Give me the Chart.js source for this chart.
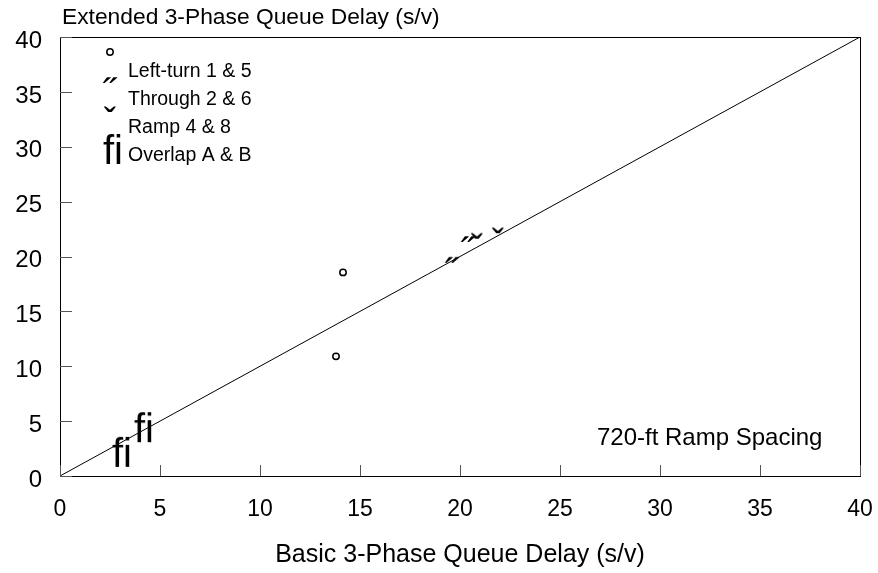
<!DOCTYPE html>
<html>
<head>
<meta charset="utf-8">
<script src="https://cdn.jsdelivr.net/npm/chart.js@4/dist/chart.umd.min.js"></script>
<style>
  html, body { margin: 0; padding: 0; background: #fff; }
</style>
</head>
<body>
<canvas id="c" width="878" height="573"></canvas>
<script>
// values (x = basic delay, y = extended delay)
const seriesNames = ['Left-turn 1 & 5', 'Through 2 & 6', 'Ramp 4 & 8', 'Overlap A & B'];
const leftTurnX = [14.15, 13.8];
const leftTurnY = [18.55, 10.9];
const throughX = [19.6, 20.4];
const throughY = [19.7, 21.6];
const rampX = [20.85, 21.9];
const rampY = [21.9, 22.4];
const overlapX = [3.05, 4.15];
const overlapY = [2.2, 4.45];
const equalityLine = [0, 40];
const axisTicks = [0, 5, 10, 15, 20, 25, 30, 35, 40];

const FONT = '"Liberation Sans", Arial, sans-serif';

// small canvas holding one text glyph, ink centred, used as a point style
function glyph(txt, px, w, h) {
  const c = document.createElement('canvas');
  c.width = w; c.height = h;
  const g = c.getContext('2d');
  g.font = px + 'px ' + FONT;
  g.fillStyle = '#000';
  const m = g.measureText(txt);
  const iw = m.actualBoundingBoxLeft + m.actualBoundingBoxRight;
  const ih = m.actualBoundingBoxAscent + m.actualBoundingBoxDescent;
  g.fillText(txt, (w - iw) / 2 + m.actualBoundingBoxLeft, (h - ih) / 2 + m.actualBoundingBoxAscent);
  return c;
}

const markThrough = glyph('\u02DD', 38, 20, 16);
const markRamp = glyph('\u02C7', 36, 20, 16);
const markOverlap = glyph('fi', 40, 30, 36);

function pts(xs, ys) {
  return xs.map((v, i) => ({ x: v, y: ys[i] }));
}

const datasets = [
  { label: seriesNames[0], data: pts(leftTurnX, leftTurnY), pointStyle: 'circle', pointRadius: 3.2,
    pointBorderWidth: 1.5, pointBorderColor: '#000', pointBackgroundColor: '#fff', showLine: false },
  { label: seriesNames[1], data: pts(throughX, throughY), pointStyle: markThrough, showLine: false },
  { label: seriesNames[2], data: pts(rampX, rampY), pointStyle: markRamp, showLine: false },
  { label: seriesNames[3], data: pts(overlapX, overlapY), pointStyle: markOverlap, showLine: false },
  { label: 'equal', data: pts(equalityLine, equalityLine), showLine: true, borderColor: '#000',
    borderWidth: 1, pointRadius: 0, fill: false }
];

// frame, inward ticks, titles, note and legend
const decor = {
  id: 'decor',
  afterDraw(chart) {
    const { ctx, chartArea: a, scales: { x, y } } = chart;
    ctx.save();
    ctx.strokeStyle = '#000';
    ctx.lineWidth = 1;
    ctx.strokeRect(a.left + 0.5, a.top + 0.5, a.right - a.left, a.bottom - a.top);

    ctx.strokeStyle = '#555';
    ctx.beginPath();
    axisTicks.forEach(v => {
      const px = Math.round(x.getPixelForValue(v)) + 0.5;
      ctx.moveTo(px, a.bottom); ctx.lineTo(px, a.bottom - 11);
      const py = Math.round(y.getPixelForValue(v)) + 0.5;
      ctx.moveTo(a.left, py); ctx.lineTo(a.left + 12, py);
    });
    ctx.stroke();

    ctx.fillStyle = '#000';
    ctx.textBaseline = 'middle';
    ctx.textAlign = 'left';
    ctx.font = '22.8px ' + FONT;
    ctx.fillText('Extended 3-Phase Queue Delay (s/v)', a.left + 2, 18);

    ctx.font = '24px ' + FONT;
    ctx.fillText('720-ft Ramp Spacing', 597, 438);

    // legend: marker sits above-left of its label like in the original
    ctx.font = '19.5px ' + FONT;
    const offs = [-20, -20, -19, -7];
    seriesNames.forEach((name, i) => {
      const ly = 72 + i * 28;
      ctx.fillStyle = '#000';
      ctx.fillText(name, 128, ly);
      const ds = chart.data.datasets[i];
      ctx.fillStyle = '#fff';
      ctx.strokeStyle = '#000';
      ctx.lineWidth = ds.pointBorderWidth || 1;
      Chart.helpers.drawPoint(ctx, {
        pointStyle: ds.pointStyle, radius: ds.pointRadius || 3, borderWidth: ds.pointBorderWidth || 1, rotation: 0
      }, i === 3 ? 112 : 110, ly + offs[i]);
    });
    ctx.restore();
  }
};

new Chart(document.getElementById('c'), {
  type: 'scatter',
  data: { datasets },
  options: {
    responsive: false,
    animation: false,
    layout: { padding: { top: 37, right: 18, left: 0, bottom: 0 } },
    plugins: { legend: { display: false }, tooltip: { enabled: false } },
    scales: {
      x: {
        type: 'linear', min: 0, max: 40,
        afterFit: s => { s.height = 97; s.paddingLeft = 0; s.paddingRight = 0; },
        grid: { display: false, drawTicks: false },
        border: { display: false },
        ticks: { stepSize: 5, padding: 20, color: '#000', font: { family: FONT, size: 23 } },
        title: { display: true, text: 'Basic 3-Phase Queue Delay (s/v)', color: '#000',
          font: { family: FONT, size: 25 }, padding: { top: 5, bottom: 3 } }
      },
      y: {
        type: 'linear', min: 0, max: 40,
        afterFit: s => { s.width = 60; s.paddingTop = 0; s.paddingBottom = 0; },
        grid: { display: false, drawTicks: false },
        border: { display: false },
        ticks: { stepSize: 5, padding: 18, labelOffset: 4, color: '#000', font: { family: FONT, size: 24 } }
      }
    }
  },
  plugins: [decor]
});
</script>
</body>
</html>
